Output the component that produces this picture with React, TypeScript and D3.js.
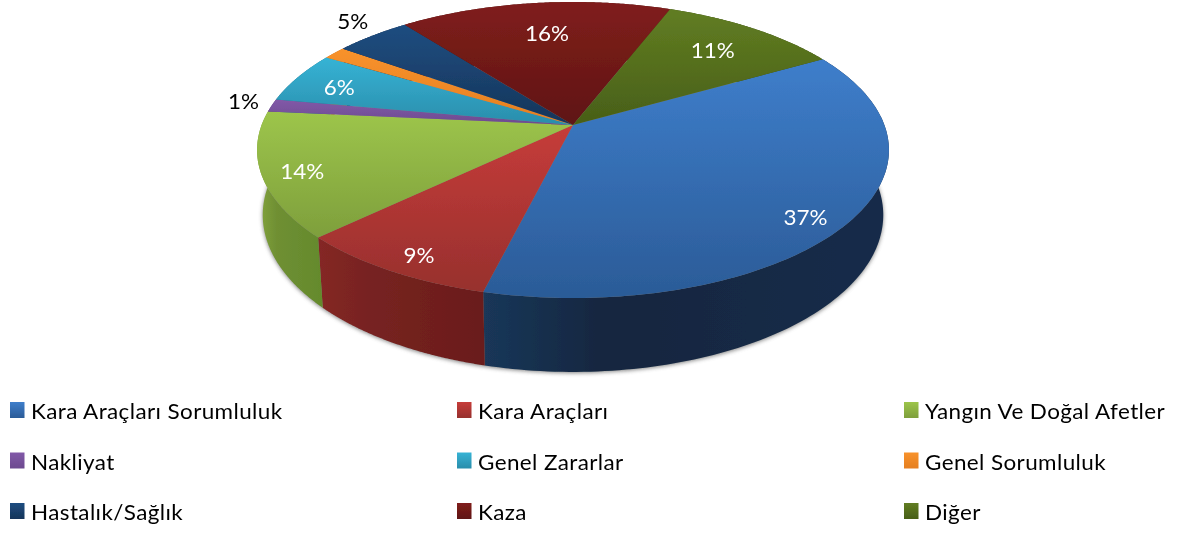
import * as d3 from 'd3';
import React from 'react';

const width = 1178;
const height = 533;

// slice values (labels are the rounded ones)
const categories = [
  'Kara Araçları Sorumluluk',
  'Kara Araçları',
  'Yangın Ve Doğal Afetler',
  'Nakliyat',
  'Genel Zararlar',
  'Genel Sorumluluk',
  'Hastalık/Sağlık',
  'Kaza',
  'Diğer'
];
const values = [37.2, 9, 13.7, 1.4, 5.6, 1.4, 4.6, 16.4, 10.9];

const faceTop = ['#3e7ecb', '#c63c3a', '#9dc54b', '#8259a8', '#36b3d5', '#f8922c', '#1f4d80', '#801f1c', '#617d22'];
const faceBottom = ['#2b5b97', '#97302d', '#7e9f3c', '#6c4a8f', '#2a8dab', '#e57f20', '#15355a', '#5f1412', '#485f18'];
const sideLeft = ['#1a3759', '#852725', '#84a53e', '#5a3f78', '#1f6f88', '#c06a18', '#10294a', '#4b100e', '#364a12'];
const sideMid = ['#13263f', '#772321', '#6f8f33', '#5a3f78', '#1f6f88', '#c06a18', '#10294a', '#4b100e', '#364a12'];
const sideRight = ['#162c4a', '#6a1c1a', '#648a2c', '#5a3f78', '#1f6f88', '#c06a18', '#10294a', '#4b100e', '#364a12'];
const textColor = ['#fff', '#fff', '#fff', '#000', '#fff', 'none', '#000', '#fff', '#fff'];

// where each percent sits, as a fraction of the radius and a nudge in degrees
const labelRadius = [0.887, 0.895, 0.88, 1.1, 0.83, 0, 1.147, 0.724, 0.755];
const labelNudge = [3.45, -1.5, -1.35, 0.6, -1.6, 0, 1.5, 0.9, 0];

// perspective of the tilted disc
const cx = 573;
const cy = 125;
const A = 311.4;
const B = 143.8;
const k = 0.169;
const firstAngle = (60.3 * Math.PI) / 180;
const textStretch = 1.07; // the original text is a bit wider than it is tall

const project = (angle: number, r = 1): [number, number] => {
  const X = r * Math.sin(angle);
  const Y = -r * Math.cos(angle);
  const w = 1 - k * Y;
  return [cx + (A * X) / w, cy + (B * Y) / w];
};
// the bottom rim is a bit narrower and a bit stretched
const down = ([x, y]: [number, number]): [number, number] => [cx + 0.982 * (x - cx), 1.06 * y + 56];

const pie = d3
  .pie<number>()
  .sort(null)
  .startAngle(firstAngle)
  .endAngle(firstAngle + 2 * Math.PI);
const slices = pie(values);
const line = d3.line();

const rim = (a0: number, a1: number) =>
  d3.range(0, 121).map(i => project(a0 + ((a1 - a0) * i) / 120));

const wholeRim = rim(firstAngle, firstAngle + 2 * Math.PI);

const legendX = d3.scalePoint<number>().domain([0, 1, 2]).range([10, 904]);
const legendY = d3.scalePoint<number>().domain([0, 1, 2]).range([412, 513]);

export default function App() {
  return (
    <svg
      width={width}
      height={height}
      style={{ position: 'absolute', left: 0, top: 0, display: 'block', background: '#fff' }}
      fontFamily="Lato, Carlito, sans-serif"
    >
      <defs>
        <filter id="soft" x="-5%" y="-5%" width="110%" height="110%">
          <feGaussianBlur stdDeviation="0.6" />
        </filter>
        <filter id="textSoft" x="-5%" y="-5%" width="110%" height="110%">
          <feGaussianBlur stdDeviation="0.3" />
        </filter>
        <filter id="shadow" x="-5%" y="-5%" width="110%" height="115%">
          <feGaussianBlur stdDeviation="2" />
        </filter>
        {categories.map((c, i) => (
          <linearGradient key={c} id={`face${i}`} x1="0" y1="0" x2="0" y2="1">
            <stop offset="0" stopColor={faceTop[i]} />
            <stop offset="1" stopColor={faceBottom[i]} />
          </linearGradient>
        ))}
        {categories.map((c, i) => (
          <linearGradient key={c} id={`side${i}`} x1="0" y1="0" x2="1" y2="0">
            <stop offset="0" stopColor={sideLeft[i]} />
            <stop offset="0.3" stopColor={sideMid[i]} />
            <stop offset="1" stopColor={sideRight[i]} />
          </linearGradient>
        ))}
      </defs>

      {/* soft shadow below the pie */}
      <path
        d={line(wholeRim.map(down).map(([x, y]) => [x, y + 1]))! + 'Z'}
        fill="#555"
        opacity={0.75}
        filter="url(#shadow)"
      />

      <g filter="url(#soft)">
        {slices.map((s, i) => {
          const top = rim(s.startAngle, s.endAngle);
          const bottom = top.map(down).reverse();
          return <path key={i} d={line([...top, ...bottom])! + 'Z'} fill={`url(#side${i})`} />;
        })}
        {slices.map((s, i) => (
          <path
            key={i}
            d={line([[cx, cy], ...rim(s.startAngle, s.endAngle)])! + 'Z'}
            fill={`url(#face${i})`}
          />
        ))}
      </g>

      <g fontSize={21} textAnchor="middle" filter="url(#textSoft)">
        {slices.map((s, i) => {
          if (!labelRadius[i]) return null;
          const mid = (s.startAngle + s.endAngle) / 2 + (labelNudge[i] * Math.PI) / 180;
          const [x, y] = project(mid, labelRadius[i]);
          return (
            <text
              key={i}
              transform={`translate(${x},${y}) scale(${textStretch},1)`}
              dy="0.36em"
              fill={textColor[i]}
            >
              {d3.format('.0f')(values[i])}%
            </text>
          );
        })}
      </g>

      <g fontSize={21} letterSpacing={0.37} fill="#000" filter="url(#textSoft)">
        {categories.map((c, i) => {
          const x = legendX(i % 3)!;
          const y = legendY(Math.floor(i / 3))!;
          return (
            <g key={c} transform={`translate(${x},${y})`}>
              <rect x={0} y={-10} width={14.5} height={16} fill={`url(#face${i})`} />
              <text transform={`translate(21,0) scale(${textStretch},1)`} dy="0.35em">
                {c}
              </text>
            </g>
          );
        })}
      </g>
    </svg>
  );
}
